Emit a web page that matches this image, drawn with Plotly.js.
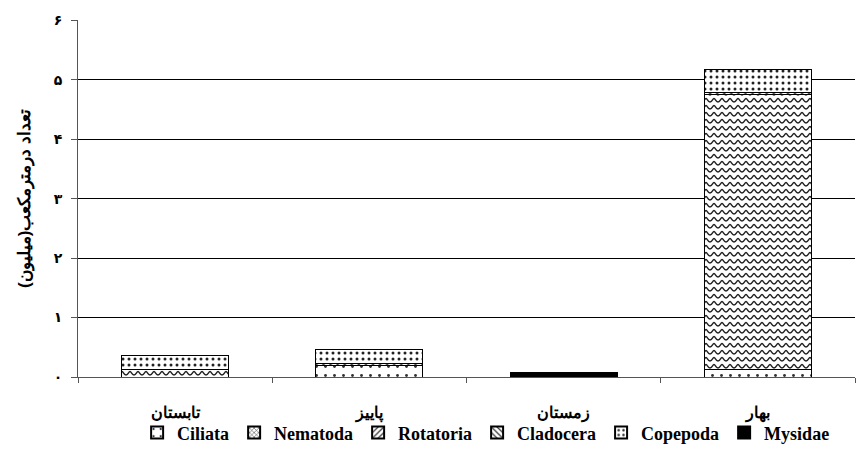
<!DOCTYPE html>
<html>
<head>
<meta charset="utf-8">
<script src="https://cdn.plot.ly/plotly-3.0.1.min.js"></script>
<style>html,body{margin:0;padding:0;background:#fff}#chart{width:857px;height:463px}</style>
</head>
<body>
<div id="chart"></div>
<script>
var categories = ['تابستان', 'پاییز', 'زمستان', 'بهار'];
var Ciliata   = [0,    0.20, 0,    0.12];
var Nematoda  = [0,    0,    0,    0];
var Rotatoria = [0.13, 0,    0,    4.63];
var Cladocera = [0,    0.02, 0,    0.04];
var Copepoda  = [0.24, 0.24, 0,    0.39];
var Mysidae   = [0,    0,    0.07, 0];
var yTickVals = [0, 1, 2, 3, 4, 5, 6];
var yTickText = ['۰', '۱', '۲', '۳', '۴', '۵', '۶'];

function mk(name, vals, pattern, color) {
  return {
    type: 'bar', name: name, x: categories, y: vals,
    width: 0.55,
    marker: {color: color || '#ffffff', line: {color: '#000', width: 1}, pattern: pattern},
    hoverinfo: 'y+name'
  };
}
var traces = [
  mk('Ciliata', Ciliata, {shape: '.', size: 9, solidity: 0.08, fgcolor: '#333', bgcolor: '#fff'}),
  mk('Nematoda', Nematoda, {shape: 'x', size: 4, solidity: 0.3, fgcolor: '#333', bgcolor: '#fff'}),
  mk('Rotatoria', Rotatoria, {shape: '/', size: 5, solidity: 0.3, fgcolor: '#333', bgcolor: '#fff'}),
  mk('Cladocera', Cladocera, {shape: '\\', size: 5, solidity: 0.3, fgcolor: '#333', bgcolor: '#fff'}),
  mk('Copepoda', Copepoda, {shape: '.', size: 6, solidity: 0.2, fgcolor: '#222', bgcolor: '#fff'}),
  mk('Mysidae', Mysidae, {}, '#000')
];

var serif = 'Liberation Serif, Times New Roman, serif';
var arab = 'Liberation Sans, Arial, sans-serif';
var layout = {
  width: 857, height: 463,
  margin: {l: 78, r: 2, t: 20, b: 86, autoexpand: false},
  barmode: 'stack',
  paper_bgcolor: '#fff', plot_bgcolor: '#fff',
  font: {family: serif, color: '#000'},
  showlegend: true,
  legend: {
    orientation: 'h', xref: 'container', yref: 'container',
    x: 0.16, xanchor: 'left', y: 0.105, yanchor: 'top',
    bgcolor: 'rgba(0,0,0,0)',
    traceorder: 'normal',
    font: {family: serif, size: 18, color: '#000', weight: 'bold'},
    itemwidth: 30, itemsizing: 'constant', tracegroupgap: 0
  },
  xaxis: {
    type: 'category', range: [-0.5, 3.5],
    showline: true, linecolor: '#555', linewidth: 1,
    ticks: 'outside', tickson: 'boundaries', ticklen: 5, tickcolor: '#555',
    ticklabelstandoff: 21,
    tickfont: {family: arab, size: 16, color: '#000', weight: 'bold'},
    showgrid: false, fixedrange: true, automargin: false
  },
  yaxis: {
    range: [0, 6.004], tickvals: yTickVals, ticktext: yTickText,
    showline: true, linecolor: '#555', linewidth: 1,
    ticks: 'outside', ticklen: 6, tickcolor: '#555',
    showgrid: true, gridcolor: '#000', gridwidth: 1,
    zeroline: false,
    tickfont: {family: 'DejaVu Sans', size: 14, color: '#000', weight: 'bold'},
    ticklabelstandoff: 6,
    title: {text: 'تعداد درمترمکعب(میلیون)', font: {family: arab, size: 17, color: '#000', weight: 'bold'}, standoff: 18},
    fixedrange: true, automargin: false
  }
};

Plotly.newPlot('chart', traces, layout, {displayModeBar: false, staticPlot: true}).then(function () {
  var svg = document.querySelector('#chart svg.main-svg');
  var ns = 'http://www.w3.org/2000/svg';
  var defs = svg.querySelector('defs') || svg.insertBefore(document.createElementNS(ns, 'defs'), svg.firstChild);
  var pat = document.createElementNS(ns, 'pattern');
  pat.setAttribute('id', 'wavepat');
  pat.setAttribute('patternUnits', 'userSpaceOnUse');
  pat.setAttribute('width', '16');
  pat.setAttribute('height', '7');
  var rect = document.createElementNS(ns, 'rect');
  rect.setAttribute('width', '16'); rect.setAttribute('height', '7'); rect.setAttribute('fill', '#fff');
  pat.appendChild(rect);
  var p = document.createElementNS(ns, 'path');
  p.setAttribute('d', 'M0 5 C2.5 5 2.5 1.5 4 1.5 C5.5 1.5 5.5 5 8 5 C10.5 5 10.5 1.5 12 1.5 C13.5 1.5 13.5 5 16 5');
  p.setAttribute('fill', 'none'); p.setAttribute('stroke', '#222'); p.setAttribute('stroke-width', '1.4');
  pat.appendChild(p);
  defs.appendChild(pat);
  var tr = document.querySelectorAll('#chart .barlayer .trace');
  if (tr[2]) tr[2].querySelectorAll('path').forEach(function (el) { el.style.fill = 'url(#wavepat)'; });
});
</script>
</body>
</html>
